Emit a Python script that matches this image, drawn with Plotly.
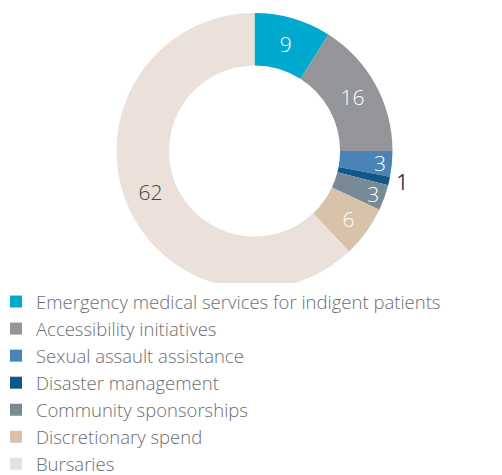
import plotly.graph_objects as go

categories = [
    "Emergency medical services for indigent patients",
    "Accessibility initiatives",
    "Sexual assault assistance",
    "Disaster management",
    "Community sponsorships",
    "Discretionary spend",
    "Bursaries",
]
values = [9, 16, 3, 1, 3, 6, 62]
colors = ["#00a9ce", "#939598", "#4a83b5", "#11578a", "#788a95", "#d8c2aa", "#ebe1da"]
text_colors = ["white", "white", "white", "#444444", "white", "white", "#444444"]
text_positions = ["inside", "inside", "inside", "outside", "inside", "inside", "inside"]

W, H = 502, 475

fig = go.Figure(
    go.Pie(
        labels=categories,
        values=values,
        hole=0.62,
        sort=False,
        direction="clockwise",
        rotation=0,
        marker=dict(colors=colors, line=dict(width=0)),
        textinfo="value",
        textposition=text_positions,
        insidetextorientation="horizontal",
        textfont=dict(family="Open Sans", size=21, weight=300, color=text_colors),
        outsidetextfont=dict(family="Open Sans", size=21, weight=400, color="#444444"),
        # shifted up/left to compensate for plotly's own offset
        domain=dict(x=[108.5 / W, 384.5 / W], y=[1 - 281 / H, 1 - 5 / H]),
    )
)

fig.update_layout(
    width=W,
    height=H,
    margin=dict(l=0, r=0, t=0, b=0),
    paper_bgcolor="white",
    showlegend=True,
    legend=dict(
        x=0,
        y=0,
        xanchor="left",
        yanchor="bottom",
        indentation=-12,
        font=dict(family="Open Sans", size=18.5, weight=300, color="#6d6e71"),
        itemclick=False,
    ),
    uniformtext=dict(minsize=21, mode="show"),
)

fig.write_html("out.html")
